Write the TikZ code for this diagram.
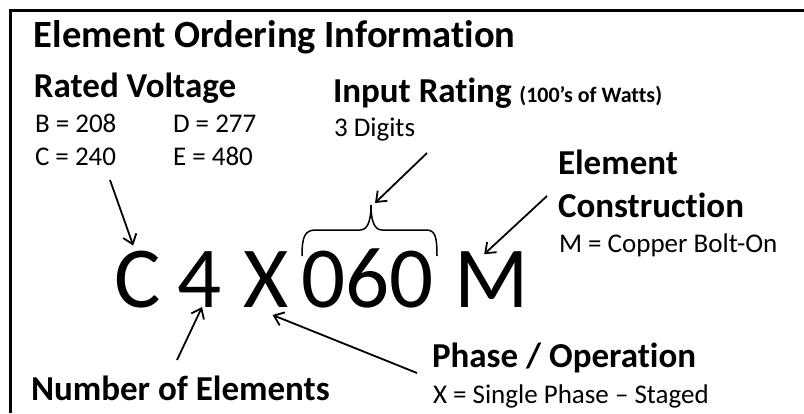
\documentclass[tikz,border=0pt]{standalone}
\usepackage{fontspec}
\setmainfont{Carlito}[Ligatures={NoCommon,NoRare}]
\usetikzlibrary{arrows.meta}
\begin{document}
\begin{tikzpicture}[x=1pt,y=-1pt,
  txt/.style={anchor=base west,inner sep=0pt,outer sep=0pt},
  ttl/.style={txt,font=\fontsize{38.5}{44}\selectfont\bfseries},
  head/.style={txt,font=\fontsize{35}{40}\selectfont\bfseries},
  body/.style={txt,font=\fontsize{27}{32}\selectfont},
  big/.style={txt,font=\fontsize{87}{100}\selectfont},
  arr/.style={line width=1.8pt,-{Straight Barb[length=9pt,width=14pt]}},
  bracestyle/.style={line width=1.5pt},
]
\useasboundingbox (0,0) rectangle (804,413);
\draw[line width=3pt] (10,413) -- (10,10) -- (804,10);

\node[ttl] (title) at (34,47) {Element Ordering Information};
\node[head] (rv) at (34,97) {Rated Voltage};
\node[body] (b) at (35,132) {B = 208};
\node[body] (d) at (173,132) {D = 277};
\node[body] (c) at (35,165) {C = 240};
\node[body] (e) at (173,165) {E = 480};
\node[head] (ir) at (333,102) {Input Rating {\fontsize{22}{24}\selectfont(100’s of Watts)}};
\node[body] (dig) at (334,136) {3 Digits};
\node[head] (ec1) at (558,174) {Element};
\node[head] (ec2) at (558,217) {Construction};
\node[body] (cu) at (559,252) {M = Copper Bolt-On};
\node[head] (ne) at (31,400) {Number of Elements};
\node[head] (ph) at (432,367) {Phase / Operation};
\node[body] (xs) at (433,403) {X = Single Phase – Staged};

\node[big] (C) at (114,307) {C};
\node[big] (four) at (177,307) {4};
\node[big] (X) at (243,307) {X};
\node[big] (num) at (301,307) {060};
\node[big] (M) at (454,307) {M};

\coordinate (bt) at (371,205);
\draw[bracestyle] (302,256) .. controls (302,236) and (305,230) .. (316,230) -- (360,230) .. controls (368,230) and (371,220) .. (bt) .. controls (371,220) and (374,230) .. (382,230) -- (426,230) .. controls (435,230) and (437,236) .. (437,256);

\coordinate (t1) at (110,180);
\coordinate (t2) at (427,153);
\coordinate (t3) at (547,196);
\coordinate (t4) at (177,360);
\coordinate (t5) at (417,373);
\draw[arr] (t1) -- ([xshift=-4pt,yshift=5pt]C.north);
\draw[arr] (t2) -- ([xshift=4pt,yshift=2pt]bt);
\draw[arr] (t3) -- ([xshift=-7pt,yshift=-3pt]M.north);
\draw[arr] (t4) -- ([xshift=3pt]four.south);
\draw[arr] (t5) -- ([xshift=7pt,yshift=-8pt]X.south);
\end{tikzpicture}
\end{document}
